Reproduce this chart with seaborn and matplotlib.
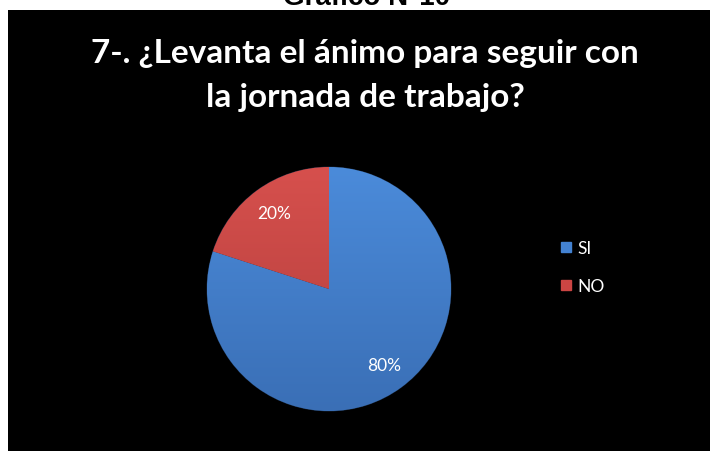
import matplotlib
matplotlib.use("Agg")
import numpy as np
import matplotlib.pyplot as plt
from matplotlib.patches import Rectangle
from matplotlib.lines import Line2D
from matplotlib.colors import LinearSegmentedColormap
import seaborn as sns

# Survey answers
categories = ["SI", "NO"]
values = [80, 20]
heading = "Gráfico N°10"
title_lines = ["7-. ¿Levanta el ánimo para seguir con", "la jornada de trabajo?"]

sns.set_theme(style="white")
plt.rcParams["font.family"] = ["Lato", "DejaVu Sans"]

colors = ["#4382d2", "#cc4543"]
# light-to-dark shading of each slice, top to bottom
shades = [("#4b8bda", "#3a6fb6"), ("#d6504d", "#b23d3b")]

W, H = 710, 452
fig = plt.figure(figsize=(W / 100, H / 100), dpi=100)
fig.patch.set_facecolor("white")

# black chart area
fig.patches.append(Rectangle((8 / W, 0), (W - 8) / W, (H - 11) / H,
                             transform=fig.transFigure, facecolor="black",
                             edgecolor="none", zorder=-5))

# heading above the chart area (mostly cut at the top)
fig.text(367 / W, 1 - 5 / H, heading, ha="center", va="baseline",
         fontsize=20, fontweight="bold", color="black",
         family=["Liberation Sans", "DejaVu Sans"], zorder=-4)

# two-line title
for line, base in zip(title_lines, [63, 107]):
    fig.text(365 / W, 1 - base / H, line, ha="center", va="baseline",
             fontsize=24, fontweight="bold", color="white")

cx, cy, r = 329, 290, 122
ax = fig.add_axes([(cx - r) / W, (H - cy - r) / H, 2 * r / W, 2 * r / H])
ax.set_facecolor("none")
ax.set_zorder(2)
wedges, texts, autotexts = ax.pie(
    values, colors=colors, startangle=90, counterclock=False,
    autopct="%1.0f%%", pctdistance=0.77,
    wedgeprops=dict(edgecolor="#1a2a40", linewidth=0.6),
    textprops=dict(color="white", fontsize=12.5))

grad = np.linspace(0, 1, 256).reshape(-1, 1)
for w, (top, bottom) in zip(wedges, shades):
    cmap = LinearSegmentedColormap.from_list("shade", [top, bottom])
    im = ax.imshow(grad, cmap=cmap, extent=(-1, 1, -1, 1), origin="upper",
                   aspect="auto", zorder=w.get_zorder() + 0.1,
                   interpolation="bilinear")
    im.set_clip_path(w)
for t in autotexts:
    t.set_zorder(5)

ax.set_xlim(-1, 1)
ax.set_ylim(-1, 1)
ax.set_aspect("equal")
ax.axis("off")

handles = [Line2D([0], [0], marker="s", linestyle="none", markersize=6.5,
                  markerfacecolor=c, markeredgecolor=c) for c in colors]
leg = fig.legend(handles, categories, loc="center left",
                 bbox_to_anchor=(554 / W, 1 - 268 / H), frameon=False,
                 fontsize=12.5, labelcolor="white", handlelength=0.6,
                 handletextpad=0.35, labelspacing=1.3, borderaxespad=0)

fig.savefig("out.png", dpi=100, facecolor=fig.get_facecolor())
